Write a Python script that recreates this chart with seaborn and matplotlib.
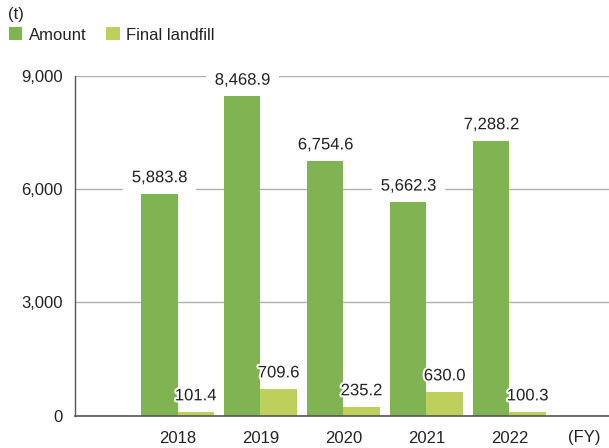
import numpy as np
import pandas as pd
import matplotlib
matplotlib.use("Agg")
import matplotlib.pyplot as plt
import matplotlib.patheffects as pe
from matplotlib.patches import Patch
import seaborn as sns

# Data
years = ["2018", "2019", "2020", "2021", "2022"]
amount = [5883.8, 8468.9, 6754.6, 5662.3, 7288.2]
final_landfill = [101.4, 709.6, 235.2, 630.0, 100.3]
series_names = ["Amount", "Final landfill"]
yticks = [0, 3000, 6000, 9000]

df = pd.DataFrame({
    "year": years * 2,
    "value": amount + final_landfill,
    "series": [series_names[0]] * len(years) + [series_names[1]] * len(years),
})

colors = ["#80b351", "#bfcf5b"]

sns.set_style("white")
plt.rcParams["font.family"] = ["Liberation Sans", "DejaVu Sans"]

fig = plt.figure(figsize=(6.09, 4.48), dpi=100)
ax = fig.add_axes([75 / 609, (448 - 415.5) / 448, 534 / 609, (415.5 - 76) / 448])

sns.barplot(data=df, x="year", y="value", hue="series", palette=colors,
            width=0.87, saturation=1, legend=False, ax=ax, zorder=2,
            linewidth=0, edgecolor="none")

ax.set_ylim(0, 9000)
ax.set_xlim(-1.235, 5.199)
ax.set_yticks(yticks)
ax.set_yticklabels([f"{v:,}" for v in yticks])
ax.set_xlabel("")
ax.set_ylabel("")
ax.tick_params(axis="both", length=0, labelsize=12, colors="#222222")
ax.tick_params(axis="y", pad=9)
ax.tick_params(axis="x", pad=11)

ax.set_axisbelow(True)
ax.yaxis.grid(True, color="#b0b0b0", linewidth=1.0, zorder=0)
for s in ["top", "right"]:
    ax.spines[s].set_visible(False)
ax.spines["left"].set_color("#555555")
ax.spines["left"].set_linewidth(1.0)
ax.spines["bottom"].set_color("#555555")
ax.spines["bottom"].set_linewidth(1.2)

# value labels
for cont in ax.containers:
    for bar in cont:
        h = bar.get_height()
        xc = bar.get_x() + bar.get_width() / 2
        txt = f"{h:,.1f}"
        # white box behind bars that breaks the gridlines
        ax.annotate(txt, (xc, h), xytext=(0, 6), textcoords="offset points",
                    ha="center", va="bottom", fontsize=12, color="white",
                    bbox=dict(boxstyle="square,pad=0.55", fc="white", ec="none"),
                    zorder=1)
        ax.annotate(txt, (xc, h), xytext=(0, 6), textcoords="offset points",
                    ha="center", va="bottom", fontsize=12, color="#222222",
                    path_effects=[pe.withStroke(linewidth=3, foreground="white")],
                    zorder=5)

fig.text(584 / 609, 1 - 437 / 448, "(FY)", ha="center", va="center",
         fontsize=12, color="#222222")
fig.text(8 / 609, 1 - 14 / 448, "(t)", ha="left", va="center",
         fontsize=12, color="#222222")

handles = [Patch(facecolor=c, edgecolor="none") for c in colors]
fig.legend(handles, series_names, loc="center left",
           bbox_to_anchor=(-3 / 609, 1 - 35 / 448), ncol=2, frameon=False,
           fontsize=12, handlelength=0.8, handleheight=0.8,
           handletextpad=0.4, columnspacing=1.2, borderpad=0.2,
           labelcolor="#222222")

fig.savefig("out.png", dpi=100)
